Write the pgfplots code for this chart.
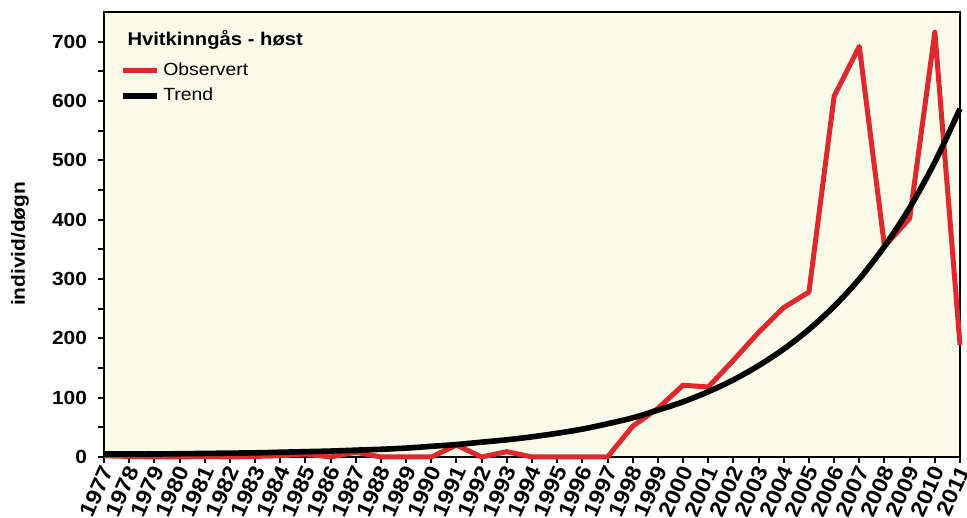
\documentclass[border=0pt]{standalone}
\usepackage{fontspec}
\setmainfont{Liberation Sans}[FakeStretch=1.1]
\usepackage{pgfplots}
\pgfplotsset{compat=1.18}
\usepackage{pgfplotstable}
\definecolor{bgc}{RGB}{250,250,232}
\definecolor{obsred}{RGB}{221,41,45}
\pgfplotstableread{
year obs trend
1977 2 5
1978 1 5
1979 0 5
1980 0 5.5
1981 1 6
1982 0 6.5
1983 1 7
1984 2 8
1985 5 9
1986 0 10
1987 8 11.5
1988 0 13
1989 0 15
1990 0 18
1991 20 21
1992 0 25
1993 9 29
1994 0 34
1995 0 40
1996 0 47
1997 0 56
1998 52 66
1999 82 79
2000 121 93
2001 118 110
2002 163 130
2003 210 154
2004 252 182
2005 278 215
2006 608 254
2007 692 300
2008 355 355
2009 402 420
2010 716 497
2011 189 587
}\datatable
\begin{document}
\begin{tikzpicture}
\begin{axis}[
  at={(0,0)}, anchor=south west,
  scale only axis, width=428pt, height=222.5pt,
  xmin=1977, xmax=2011, ymin=0, ymax=750,
  xtick distance=1,
  ytick={0,100,...,700},
  minor y tick num=1,
  tick pos=left, tick align=outside,
  major tick length=3pt, minor tick length=3pt,
  every tick/.style={black, line width=1pt},
  axis line style={line width=1.3pt},
  axis background/.style={fill=bgc},
  clip=false,
  /pgf/number format/assume math mode=true,
  /pgf/number format/1000 sep={},
  yticklabel style={font=\fontsize{9.5}{11}\selectfont\bfseries, xshift=-2pt},
  xticklabel style={font=\fontsize{10.8}{12}\selectfont\bfseries, rotate=66, anchor=east, inner sep=1pt, yshift=-2.5pt},
  ylabel={individ/døgn},
  ylabel style={font=\fontsize{9.5}{11}\selectfont\bfseries, at={(axis description cs:-0.098,0.479)}, anchor=center},
  legend style={at={(axis description cs:0.019,0.893)}, anchor=north west, draw=none, fill=none,
    inner sep=0pt, font=\fontsize{8.8}{10}\selectfont, row sep=1.6pt,
    nodes={inner sep=1.5pt},
    /tikz/every even column/.append style={column sep=0pt}},
  legend cell align=left,
  legend image code/.code={\draw[#1] (1.5pt,0pt) -- (18.5pt,0pt);},
]
\addplot[obsred, line width=2.5pt, line join=round] table[x=year, y=obs] {\datatable};
\addlegendentry{Observert}
\addplot[black, line width=2.8pt, smooth] table[x=year, y=trend] {\datatable};
\addlegendentry{Trend}
\node[anchor=west, font=\fontsize{9.2}{11}\selectfont\bfseries, inner sep=0pt] at (axis description cs:0.027,0.937) {Hvitkinngås - høst};
\end{axis}
\pgfresetboundingbox
\path[use as bounding box] (-52pt,-30.5pt) rectangle (431.5pt,228.5pt);
\end{tikzpicture}
\end{document}
